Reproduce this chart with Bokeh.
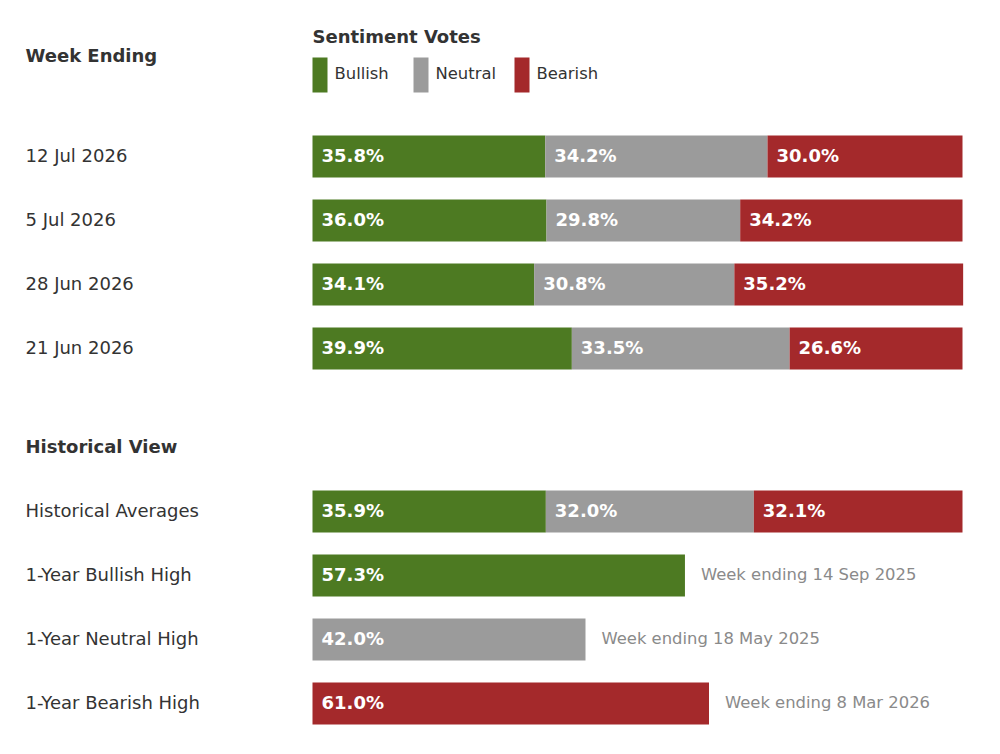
from bokeh.plotting import figure
from bokeh.models import Range1d, ColumnDataSource
from bokeh.core.properties import value
from bokeh.embed import file_html
from bokeh.resources import INLINE

# Weekly sentiment votes (percent)
weeks = ["12 Jul 2026", "5 Jul 2026", "28 Jun 2026", "21 Jun 2026"]
bullish = [35.8, 36.0, 34.1, 39.9]
neutral = [34.2, 29.8, 30.8, 33.5]
bearish = [30.0, 34.2, 35.2, 26.6]

# Historical averages
avg_label = "Historical Averages"
avg_values = [35.9, 32.0, 32.1]

# One-year highs
high_labels = ["1-Year Bullish High", "1-Year Neutral High", "1-Year Bearish High"]
high_values = [57.3, 42.0, 61.0]
high_weeks = ["Week ending 14 Sep 2025", "Week ending 18 May 2025", "Week ending 8 Mar 2026"]

series_names = ["Bullish", "Neutral", "Bearish"]
colors = ["#4d7a22", "#9b9b9b", "#a4292b"]

W, H = 1000, 754
BAR_X0, BAR_PX = 312, 6.5          # bar origin (px) and pixels per percent
FONT = "DejaVu Sans"
DARK = "#333333"


def px(x):
    """Horizontal pixel position -> percent axis."""
    return (x - BAR_X0) / BAR_PX


p = figure(width=W, height=H, output_backend="svg", toolbar_location=None,
           x_range=Range1d(px(0), px(W)), y_range=Range1d(H, 0),
           min_border=0, outline_line_color=None)
p.axis.visible = False
p.grid.visible = False
p.background_fill_color = "white"
p.border_fill_color = "white"

BAR_H = 42
week_y = [156 + 64 * i for i in range(len(weeks))]
avg_y = 511
high_y = [575 + 64 * i for i in range(len(high_labels))]
TXT_DY = -1  # small optical lift for labels centred on a row


def text(x, y, s, size="18px", bold=False, color=DARK, align="left", baseline="middle"):
    p.text(x=[x], y=[y + TXT_DY], text=[s], text_font=value(FONT), text_font_size=size,
           text_font_style="bold" if bold else "normal", text_color=color,
           text_align=align, text_baseline=baseline)


# Headers and legend
text(px(25), 56, "Week Ending", bold=True)
text(px(312), 37, "Sentiment Votes", bold=True)
legend_x = [312, 413, 514]
for lx, name, c in zip(legend_x, series_names, colors):
    p.quad(left=[px(lx)], right=[px(lx + 15)], top=[57], bottom=[92],
           fill_color=c, line_color=None)
    text(px(lx + 22), 74, name, size="16.4px")

text(px(25), 447, "Historical View", bold=True)


def stacked_row(y, vals, label):
    text(px(25), y, label)
    left = 0.0
    for v, c in zip(vals, colors):
        src = ColumnDataSource(dict(y=[y], left=[left], right=[left + v]))
        p.hbar(y="y", left="left", right="right", height=BAR_H, source=src,
               fill_color=c, line_color=None)
        text(left + 9 / BAR_PX, y, f"{v:.1f}%", bold=True, color="white")
        left += v


for y, label, b, n, r in zip(week_y, weeks, bullish, neutral, bearish):
    stacked_row(y, [b, n, r], label)

stacked_row(avg_y, avg_values, avg_label)

for y, label, v, c, wk in zip(high_y, high_labels, high_values, colors, high_weeks):
    text(px(25), y, label)
    p.hbar(y=[y], left=[0], right=[v], height=BAR_H, fill_color=c, line_color=None)
    text(9 / BAR_PX, y, f"{v:.1f}%", bold=True, color="white")
    text(v + 16 / BAR_PX, y, wk, size="16.4px", color="#8a8a8a")

open("out.html", "w").write(file_html(p, INLINE))
